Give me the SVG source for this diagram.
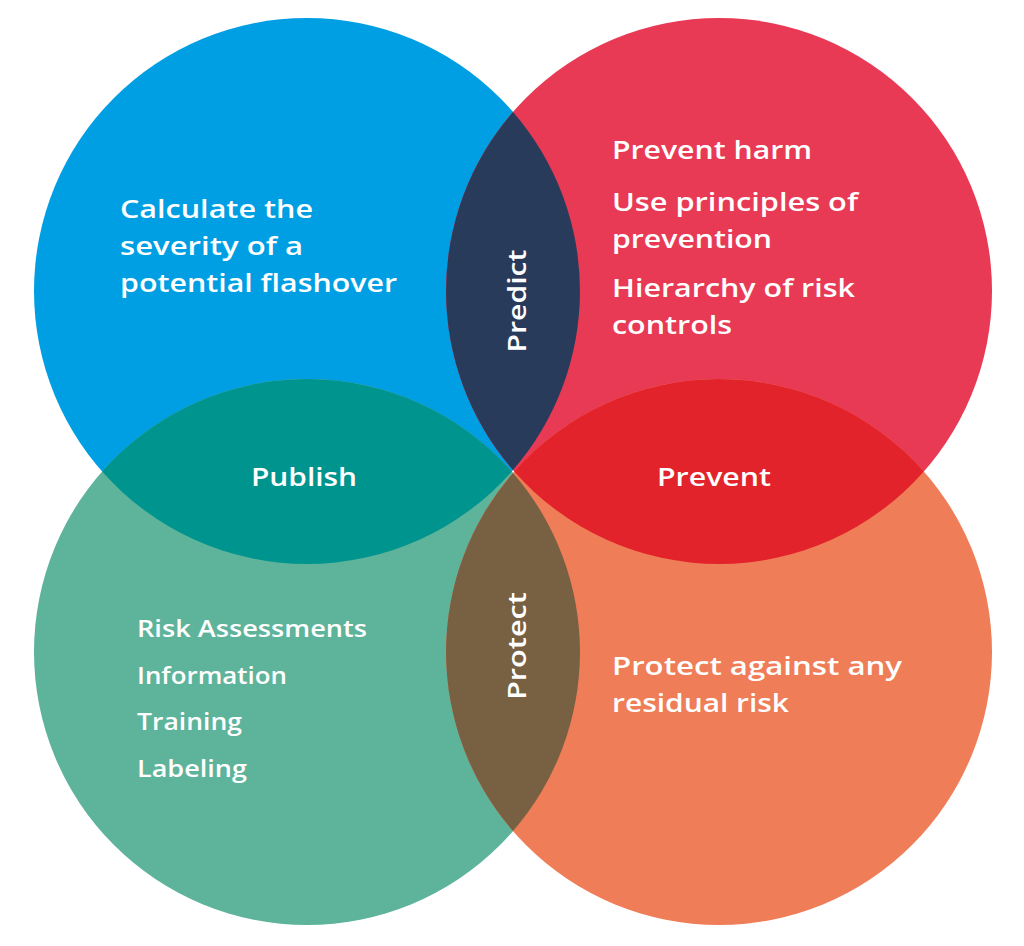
<svg xmlns="http://www.w3.org/2000/svg" width="1024" height="946" viewBox="0 0 1024 946">
<style>
.t{font-family:"Open Sans","Liberation Sans",sans-serif;font-weight:600;fill:#ffffff;font-size:26px}
.s{font-size:23.5px}
.c{text-anchor:middle}
</style>
<rect width="1024" height="946" fill="#ffffff"/>
<g id="circle-blue"><circle cx="307" cy="291" r="273" fill="#009FE3"/></g>
<g id="circle-red"><circle cx="719" cy="291" r="273" fill="#E83A55"/></g>
<g id="circle-teal"><circle cx="307" cy="652" r="273" fill="#5EB39B"/></g>
<g id="circle-orange"><circle cx="719" cy="652" r="273" fill="#EF7D57"/></g>
<g id="lens-predict"><path d="M513,111.9 A273,273 0 0 1 513,470.1 A273,273 0 0 1 513,111.9 Z" fill="#293B5B"/></g>
<g id="lens-publish"><path d="M102.2,471.5 A273,273 0 0 1 511.8,471.5 A273,273 0 0 1 102.2,471.5 Z" fill="#00948F"/></g>
<g id="lens-prevent"><path d="M514.2,471.5 A273,273 0 0 1 923.8,471.5 A273,273 0 0 1 514.2,471.5 Z" fill="#E3232B"/></g>
<g id="lens-protect"><path d="M513,472.9 A273,273 0 0 1 513,831.1 A273,273 0 0 1 513,472.9 Z" fill="#786043"/></g>
<g id="connectors"></g>
<g id="text-blue">
<text class="t" x="120" y="218" textLength="193" lengthAdjust="spacingAndGlyphs">Calculate the</text>
<text class="t" x="120" y="255" textLength="183" lengthAdjust="spacingAndGlyphs">severity of a</text>
<text class="t" x="120" y="292" textLength="277" lengthAdjust="spacingAndGlyphs">potential flashover</text>
</g>
<g id="text-red">
<text class="t" x="612" y="159" textLength="200" lengthAdjust="spacingAndGlyphs">Prevent harm</text>
<text class="t" x="612" y="211" textLength="246" lengthAdjust="spacingAndGlyphs">Use principles of</text>
<text class="t" x="612" y="248" textLength="160" lengthAdjust="spacingAndGlyphs">prevention</text>
<text class="t" x="612" y="297" textLength="243" lengthAdjust="spacingAndGlyphs">Hierarchy of risk</text>
<text class="t" x="612" y="334" textLength="120" lengthAdjust="spacingAndGlyphs">controls</text>
</g>
<g id="text-teal">
<text class="t s" x="137" y="637" textLength="230" lengthAdjust="spacingAndGlyphs">Risk Assessments</text>
<text class="t s" x="137" y="684" textLength="150" lengthAdjust="spacingAndGlyphs">Information</text>
<text class="t s" x="137" y="730" textLength="105" lengthAdjust="spacingAndGlyphs">Training</text>
<text class="t s" x="137" y="777" textLength="110" lengthAdjust="spacingAndGlyphs">Labeling</text>
</g>
<g id="text-orange">
<text class="t" x="612" y="675" textLength="290" lengthAdjust="spacingAndGlyphs">Protect against any</text>
<text class="t" x="612" y="712" textLength="177" lengthAdjust="spacingAndGlyphs">residual risk</text>
</g>
<g id="labels">
<text class="t c" x="304" y="486" textLength="106" lengthAdjust="spacingAndGlyphs">Publish</text>
<text class="t c" x="714" y="486" textLength="114" lengthAdjust="spacingAndGlyphs">Prevent</text>
<text class="t c" transform="translate(526,301) rotate(-90)" x="0" y="0" textLength="103" lengthAdjust="spacingAndGlyphs">Predict</text>
<text class="t c" transform="translate(526,646) rotate(-90)" x="0" y="0" textLength="108" lengthAdjust="spacingAndGlyphs">Protect</text>
</g>
</svg>
